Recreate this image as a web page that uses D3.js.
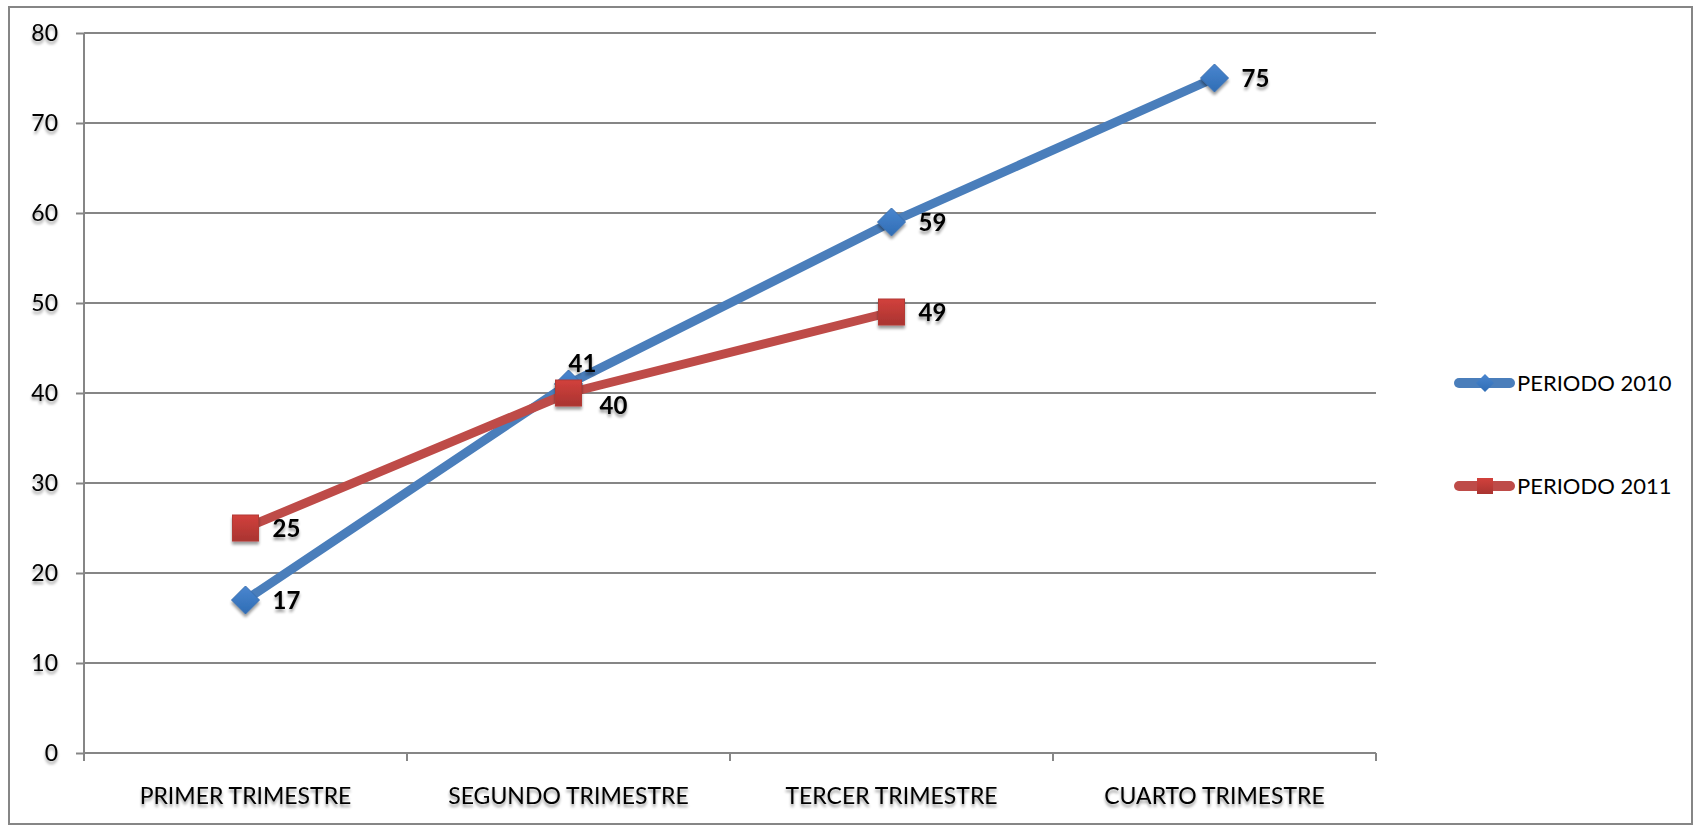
<!DOCTYPE html>
<html>
<head>
<meta charset="utf-8">
<script src="https://cdn.jsdelivr.net/npm/d3@7"></script>
<style>
  body { margin: 0; background: #fff; }
  svg text { font-family: Lato, "Open Sans", sans-serif; }
</style>
</head>
<body>
<script>
// data
var categories = ["PRIMER TRIMESTRE", "SEGUNDO TRIMESTRE", "TERCER TRIMESTRE", "CUARTO TRIMESTRE"];
var seriesNames = ["PERIODO 2010", "PERIODO 2011"];
var values2010 = [17, 41, 59, 75];
var values2011 = [25, 40, 49, null];
var yTicks = [0, 10, 20, 30, 40, 50, 60, 70, 80];

var width = 1693;
var height = 825;
var plot = {left: 84, right: 1376, top: 33, bottom: 753};

var x = d3.scaleBand().domain(categories).range([plot.left, plot.right]);
var y = d3.scaleLinear().domain([0, 80]).range([plot.bottom, plot.top]);

var svg = d3.select("body").append("svg")
    .attr("width", width)
    .attr("height", height);

var defs = svg.append("defs");
// soft shadow under texts and markers, like the excel effect
var f = defs.append("filter").attr("id", "shadow")
    .attr("x", "-30%").attr("y", "-30%").attr("width", "160%").attr("height", "180%");
f.append("feGaussianBlur").attr("in", "SourceAlpha").attr("stdDeviation", 1.6).attr("result", "b");
f.append("feOffset").attr("in", "b").attr("dy", 3).attr("result", "o");
f.append("feComponentTransfer").attr("in", "o").attr("result", "s")
  .append("feFuncA").attr("type", "linear").attr("slope", 0.4);
var fm = f.append("feMerge");
fm.append("feMergeNode").attr("in", "s");
fm.append("feMergeNode").attr("in", "SourceGraphic");

var gBlue = defs.append("linearGradient").attr("id", "gBlue").attr("x1", 0).attr("y1", 0).attr("x2", 0).attr("y2", 1);
gBlue.append("stop").attr("offset", "0%").attr("stop-color", "#4a86cf");
gBlue.append("stop").attr("offset", "100%").attr("stop-color", "#2f6db5");
var gRed = defs.append("linearGradient").attr("id", "gRed").attr("x1", 0).attr("y1", 0).attr("x2", 0).attr("y2", 1);
gRed.append("stop").attr("offset", "0%").attr("stop-color", "#d2413c");
gRed.append("stop").attr("offset", "100%").attr("stop-color", "#a93431");

// outer border
svg.append("rect")
    .attr("x", 9).attr("y", 7)
    .attr("width", width - 10).attr("height", height - 8)
    .attr("fill", "none")
    .attr("stroke", "#868686")
    .attr("stroke-width", 2);

// gridlines
svg.append("g").selectAll("line")
  .data(yTicks.filter(function(d){ return d > 0; }))
  .enter().append("line")
    .attr("x1", plot.left).attr("x2", plot.right)
    .attr("y1", function(d){ return y(d); })
    .attr("y2", function(d){ return y(d); })
    .attr("stroke", "#868686")
    .attr("stroke-width", 2);

// y axis
var yAxis = svg.append("g")
    .attr("transform", "translate(" + plot.left + ",0)")
    .call(d3.axisLeft(y).tickValues(yTicks).tickSize(8).tickPadding(18));
yAxis.select(".domain").attr("stroke", "#868686").attr("stroke-width", 2).attr("d", "M0," + plot.top + "V" + plot.bottom);
yAxis.selectAll(".tick line").attr("stroke", "#868686").attr("stroke-width", 2);
yAxis.selectAll(".tick text")
    .attr("font-size", 23)
    .attr("fill", "#000")
    .attr("filter", "url(#shadow)");

// x axis, ticks on the band edges
var xAxis = svg.append("g")
    .attr("transform", "translate(0," + plot.bottom + ")")
    .call(d3.axisBottom(x).tickSize(0).tickPadding(35));
xAxis.select(".domain").attr("stroke", "#868686").attr("stroke-width", 2).attr("d", "M" + plot.left + ",0H" + plot.right);
xAxis.selectAll(".tick text")
    .attr("font-size", 23)
    .attr("fill", "#000")
    .attr("filter", "url(#shadow)");
var edges = categories.map(function(c){ return x(c); }).concat([plot.right]);
xAxis.append("g").selectAll("line")
  .data(edges)
  .enter().append("line")
    .attr("x1", function(d){ return d; }).attr("x2", function(d){ return d; })
    .attr("y1", 0).attr("y2", 8)
    .attr("stroke", "#868686")
    .attr("stroke-width", 2);

var cx = function(i){ return x(categories[i]) + x.bandwidth() / 2; };

var series = [
  {name: seriesNames[0], values: values2010, line: "#4a7ebb", fill: "url(#gBlue)", shape: "diamond"},
  {name: seriesNames[1], values: values2011, line: "#be4b48", fill: "url(#gRed)", shape: "square"}
];

// label nudges: [dx, dy] from the point, the default sits to the right
var labelNudge = {
  "PERIODO 2010": {1: [0, -21]},
  "PERIODO 2011": {1: [31, 12]}
};

var marker = function(sel, shape, s) {
  if (shape == "diamond") {
    sel.append("path").attr("d", "M0," + (-s) + "L" + s + ",0L0," + s + "L" + (-s) + ",0Z");
  } else {
    sel.append("rect").attr("x", -s).attr("y", -s).attr("width", 2 * s).attr("height", 2 * s);
  }
};

series.forEach(function(sr) {
  var pts = sr.values.map(function(v, i){ return {v: v, i: i}; })
    .filter(function(d){ return d.v != null; });

  var line = d3.line()
    .x(function(d){ return cx(d.i); })
    .y(function(d){ return y(d.v); });

  svg.append("path")
    .datum(pts)
    .attr("d", line)
    .attr("fill", "none")
    .attr("stroke", sr.line)
    .attr("stroke-width", 9)
    .attr("stroke-linejoin", "round");

  svg.append("g").selectAll("g")
    .data(pts)
    .enter().append("g")
      .attr("transform", function(d){ return "translate(" + cx(d.i) + "," + y(d.v) + ")"; })
      .attr("filter", "url(#shadow)")
      .each(function(){
        var g = d3.select(this);
        marker(g, sr.shape, sr.shape == "diamond" ? 14 : 13);
        g.select("*").attr("fill", sr.fill)
          .attr("stroke", sr.shape == "diamond" ? "#3a6fb0" : "#b23a36")
          .attr("stroke-width", 1);
      });

  svg.append("g").selectAll("text")
    .data(pts)
    .enter().append("text")
      .attr("x", function(d){
        var n = (labelNudge[sr.name] || {})[d.i];
        return cx(d.i) + (n ? n[0] : 27);
      })
      .attr("y", function(d){
        var n = (labelNudge[sr.name] || {})[d.i];
        return y(d.v) + (n ? n[1] : 0);
      })
      .attr("dy", "0.36em")
      .attr("font-size", 24)
      .attr("font-weight", "bold")
      .attr("fill", "#000")
      .attr("filter", "url(#shadow)")
      .text(function(d){ return d.v; });
});

// legend
var legendY = [383, 486];
var legend = svg.append("g").selectAll("g")
  .data(series)
  .enter().append("g")
    .attr("transform", function(d, i){ return "translate(1455," + legendY[i] + ")"; });
legend.append("line")
    .attr("x1", 4).attr("x2", 55)
    .attr("stroke", function(d){ return d.line; })
    .attr("stroke-width", 10)
    .attr("stroke-linecap", "round");
legend.each(function(d){
  var g = d3.select(this).append("g").attr("transform", "translate(30,0)");
  marker(g, d.shape, d.shape == "diamond" ? 9 : 8);
  g.select("*").attr("fill", d.fill);
});
legend.append("text")
    .attr("x", 62)
    .attr("dy", "0.36em")
    .attr("font-size", 22)
    .attr("fill", "#000")
    .text(function(d){ return d.name; });
</script>
</body>
</html>
